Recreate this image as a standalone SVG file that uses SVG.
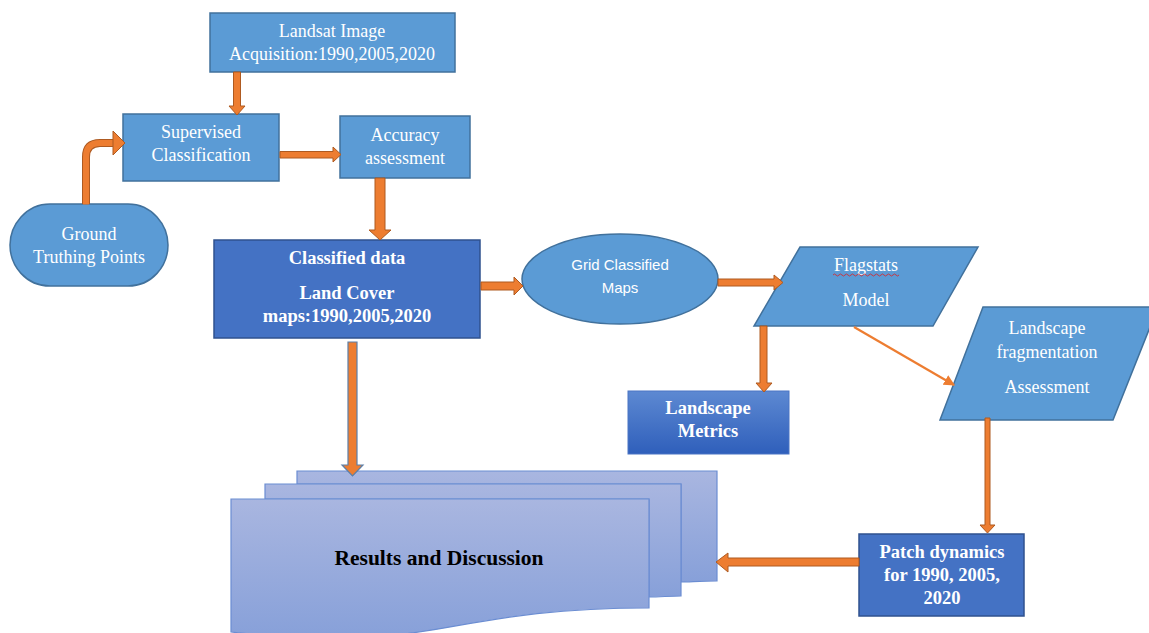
<svg xmlns="http://www.w3.org/2000/svg" width="1149" height="633" viewBox="0 0 1149 633">
<defs>
<style>
.lb{fill:#5b9bd5;stroke:#41719c;stroke-width:1.5}
.db{fill:#4472c4;stroke:#2f528f;stroke-width:1.5}
.ar{fill:#ed7d31;stroke:#ae5a21;stroke-width:1}
.t{font-family:"Liberation Serif","Times New Roman",serif;font-size:18px;fill:#fff;text-anchor:middle}
.tb{font-family:"Liberation Serif","Times New Roman",serif;font-size:18.5px;font-weight:bold;fill:#fff;text-anchor:middle}
.ts{font-family:"Liberation Sans",Arial,sans-serif;font-size:15px;fill:#fff;text-anchor:middle}
.page{fill:url(#pg);stroke:#6b8dd2;stroke-width:1.2}
</style>
<linearGradient id="pg" x1="0" y1="0" x2="0" y2="1">
<stop offset="0" stop-color="#a9b6e0"/>
<stop offset="1" stop-color="#87a0d9"/>
</linearGradient>
<linearGradient id="lm" x1="0" y1="0" x2="0" y2="1">
<stop offset="0" stop-color="#5d89d2"/>
<stop offset="1" stop-color="#2f5fbb"/>
</linearGradient>
<marker id="ah" viewBox="0 0 10 10" refX="9" refY="5" markerWidth="5" markerHeight="5" orient="auto">
<path d="M0,0 L10,5 L0,10 z" fill="#ed7d31"/>
</marker>
</defs>

<g id="results">
<path class="page" d="M297,471 H717 V581 C700,581 690,582 681,582 V484 H297 Z"/>
<path class="page" d="M265,484 H681 V596 C670,596 660,597 649,597 V499 H265 Z"/>
<path class="page" d="M231,499 H649 V608 C440,608 440,655 231,632 Z"/>
<text x="439" y="565" font-family="Liberation Serif,Times New Roman,serif" font-size="21.5" font-weight="bold" fill="#000" text-anchor="middle">Results and Discussion</text>
</g>

<g id="landsat">
<rect class="lb" x="210" y="13" width="245" height="59"/>
<text class="t" x="332" y="37">Landsat Image</text>
<text class="t" x="332" y="60">Acquisition:1990,2005,2020</text>
</g>

<g id="supervised">
<rect class="lb" x="123" y="114" width="156" height="67"/>
<text class="t" x="201" y="138">Supervised</text>
<text class="t" x="201" y="161">Classification</text>
</g>

<g id="accuracy">
<rect class="lb" x="340" y="116" width="130" height="62"/>
<text class="t" x="405" y="141">Accuracy</text>
<text class="t" x="405" y="164">assessment</text>
</g>

<g id="ground">
<path class="lb" d="M50,204 H128 C152,204 168,225 168,245 C168,266 152,286 128,286 H50 C26,286 10,266 10,245 C10,225 26,204 50,204 Z"/>
<text class="t" x="89" y="240">Ground</text>
<text class="t" x="89" y="263">Truthing Points</text>
</g>

<g id="classified">
<rect class="db" x="214" y="240" width="266" height="98"/>
<text class="tb" x="347" y="264">Classified data</text>
<text class="tb" x="347" y="299">Land Cover</text>
<text class="tb" x="347" y="322">maps:1990,2005,2020</text>
</g>

<g id="grid">
<ellipse class="lb" cx="620" cy="279" rx="98" ry="45"/>
<text class="ts" x="620" y="270">Grid Classified</text>
<text class="ts" x="620" y="293">Maps</text>
</g>

<g id="flagstats">
<polygon class="lb" points="800,247 978,247 933,326 754,326"/>
<text class="t" x="866" y="271">Flagstats</text>
<path d="M833,275 q1.5,-2 3,0 t3,0 t3,0 t3,0 t3,0 t3,0 t3,0 t3,0 t3,0 t3,0 t3,0 t3,0 t3,0 t3,0 t3,0 t3,0 t3,0 t3,0 t3,0 t3,0 t3,0 t3,0" fill="none" stroke="#e02020" stroke-width="0.8"/>
<text class="t" x="866" y="306">Model</text>
</g>

<g id="fragmentation">
<polygon class="lb" points="983,307 1158,307 1113,420 940,420"/>
<text class="t" x="1047" y="334">Landscape</text>
<text class="t" x="1047" y="358">fragmentation</text>
<text class="t" x="1047" y="393">Assessment</text>
</g>

<g id="metrics">
<rect x="628" y="391" width="161" height="63" fill="url(#lm)" stroke="#4a74c4" stroke-width="1"/>
<text class="tb" x="708" y="414" font-size="19.5">Landscape</text>
<text class="tb" x="708" y="437" font-size="19.5">Metrics</text>
</g>

<g id="patch">
<rect class="db" x="859" y="534" width="165" height="82"/>
<text class="tb" x="942" y="558">Patch dynamics</text>
<text class="tb" x="942" y="581">for 1990, 2005,</text>
<text class="tb" x="942" y="604">2020</text>
</g>

<g id="connectors">
<polygon class="ar" points="233.5,72 240.5,72 240.5,106 245,106 237,115 229,106 233.5,106"/>
<polygon class="ar" points="280,151.5 333,151.5 333,147 341,154.5 333,162 333,158 280,158"/>
<path d="M86,204 V157 Q86,143 100,143 H114" fill="none" stroke="#ae5a21" stroke-width="8"/>
<path d="M86,204.5 V157 Q86,143 100,143 H115" fill="none" stroke="#ed7d31" stroke-width="6"/>
<polygon class="ar" points="113,131 125,143 113,155"/>
<polygon class="ar" points="375,178 385,178 385,230 391,230 380,240 369,230 375,230"/>
<polygon class="ar" points="481,282 514,282 514,277 523,286 514,295 514,290 481,290"/>
<polygon class="ar" points="718,279 774,279 774,275 783,282.5 774,290 774,286 718,286"/>
<polygon class="ar" points="760,326 767,326 767,383 772,383 764,392 756,383 760,383"/>
<line x1="854" y1="327" x2="954" y2="385" stroke="#ed7d31" stroke-width="2.2" marker-end="url(#ah)"/>
<polygon class="ar" points="985,418 990,418 990,525 995,525 987.5,533 980,525 985,525"/>
<polygon class="ar" points="859,558 728,558 728,553 716,562 728,572 728,566 859,566"/>
<polygon points="348,342 357,342 357,465 363,465 352.5,476 342,465 348,465" fill="#ed7d31" stroke="#5b7fa8" stroke-width="1.2"/>
</g>
</svg>
